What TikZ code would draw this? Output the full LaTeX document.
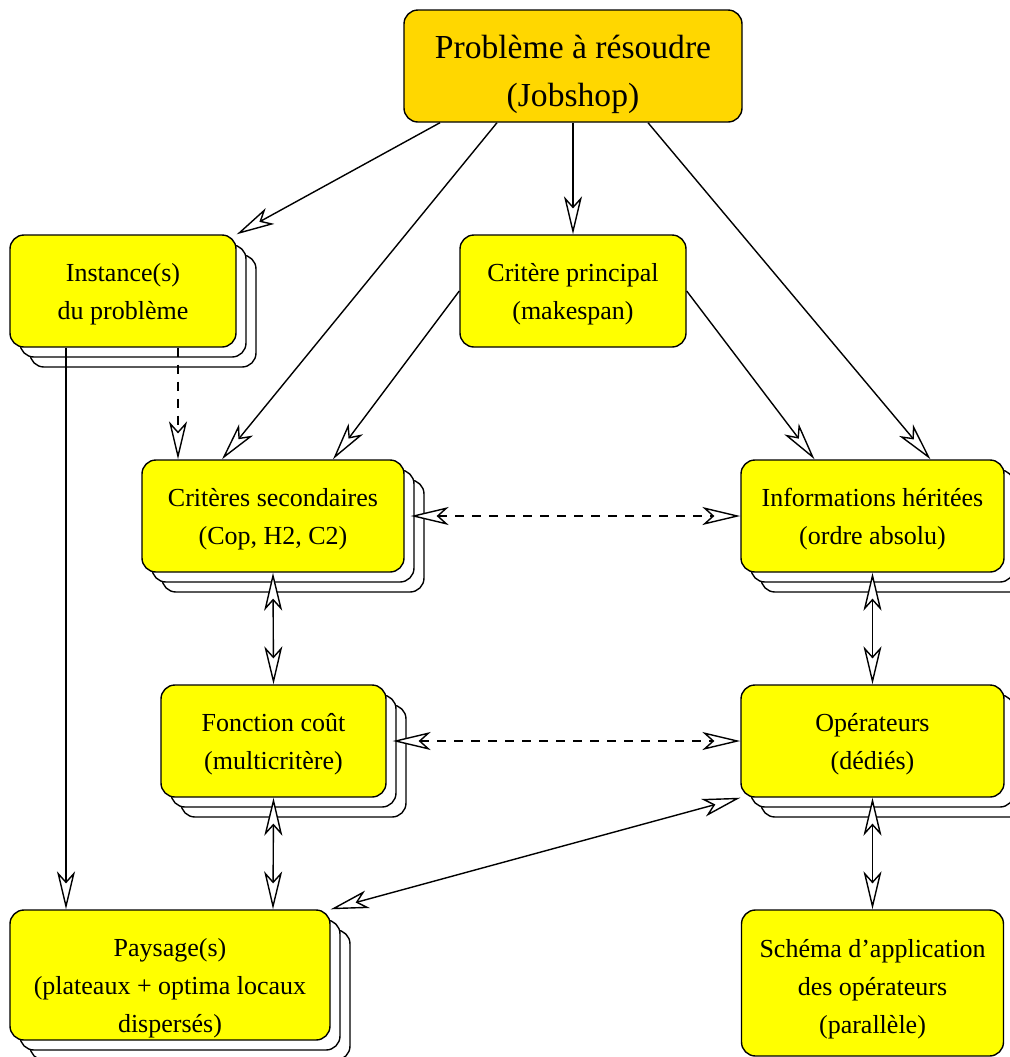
\documentclass[tikz,border=0pt]{standalone}
\usepackage{fontspec}
\setmainfont{Liberation Serif}
\usetikzlibrary{arrows.meta,shadows}

\definecolor{jaune}{HTML}{FFFF00}
\definecolor{or}{HTML}{FFD700}

\tikzset{
    bloc/.style={draw=black, line width=0.7pt, fill=jaune, rounded corners=7pt,
        align=center, inner sep=0pt, text depth=0pt, text height=28pt,
        font=\fontsize{13}{19}\selectfont},
    pile/.style={bloc, double copy shadow={shadow xshift=5pt, shadow yshift=-5pt,
        fill=white, draw=black, line width=0.7pt}},
    lien/.style={line width=0.7pt},
    tirets/.style={lien, dash pattern=on 4.5pt off 4pt}
}

\begin{document}
\begin{tikzpicture}[x=0.5pt, y=-0.5pt, >={Stealth[length=19pt, width=9pt, inset=5pt, fill=white]}]
    \useasboundingbox (0,0) rectangle (1010,1057);

    % Boites
    \node[bloc, fill=or, minimum width=169pt, minimum height=56pt, text height=40.5pt,
        font=\fontsize{16.8}{24}\selectfont] (pb) at (573,66)
        {Problème à résoudre\\(Jobshop)};
    \node[pile, minimum width=113pt, minimum height=56pt] (inst) at (123,291)
        {Instance(s)\\du problème};
    \node[bloc, minimum width=113pt, minimum height=56pt] (crit) at (573,291)
        {Critère principal\\(makespan)};
    \node[pile, minimum width=131pt, minimum height=56pt] (sec) at (273,516)
        {Critères secondaires\\(Cop, H2, C2)};
    \node[pile, minimum width=131.5pt, minimum height=56pt] (info) at (872.5,516)
        {Informations héritées\\(ordre absolu)};
    \node[pile, minimum width=112.5pt, minimum height=56pt] (fonc) at (273.5,741)
        {Fonction coût\\(multicritère)};
    \node[pile, minimum width=131.5pt, minimum height=56pt] (oper) at (872.5,741)
        {Opérateurs\\(dédiés)};
    \node[pile, minimum width=160pt, minimum height=65pt, text height=57pt] (pays) at (170,975)
        {Paysage(s)\\(plateaux + optima locaux\\dispersés)};
    \node[bloc, minimum width=131pt, minimum height=73pt, text height=50pt] (sch) at (872.5,983)
        {Schéma d’application\\des opérateurs\\(parallèle)};

    % Fleches depuis le probleme
    \draw[lien, ->] ([xshift=-66.5pt]pb.south) -- (inst.north east);
    \draw[lien, ->] ([xshift=-38pt]pb.south) -- ([xshift=-25.5pt]sec.north);
    \draw[lien, ->] (pb.south) -- (crit.north);
    \draw[lien, ->] ([xshift=37.5pt]pb.south) -- ([xshift=29pt]info.north);

    % Critere principal
    \draw[lien, ->] (crit.west) -- ([xshift=30pt]sec.north);
    \draw[lien, ->] (crit.east) -- ([xshift=-29pt]info.north);

    % Instances
    \draw[tirets, ->] ([xshift=27.5pt]inst.south) -- ([xshift=-47.5pt]sec.north);
    \draw[lien, ->] ([xshift=-28.5pt]inst.south) -- ([xshift=-52pt]pays.north);

    % Liens doubles
    \draw[tirets, <->] ([xshift=3pt]sec.east) -- (info.west);
    \draw[tirets, <->] ([xshift=3pt]fonc.east) -- (oper.west);
    \draw[lien, <->] (sec.south) -- (fonc.north);
    \draw[lien, <->] (info.south) -- (oper.north);
    \draw[lien, <->] (fonc.south) -- ([xshift=51.5pt]pays.north);
    \draw[lien, <->] (oper.south) -- (sch.north);
    \draw[lien, <->] (pays.north east) -- (oper.south west);
\end{tikzpicture}
\end{document}
